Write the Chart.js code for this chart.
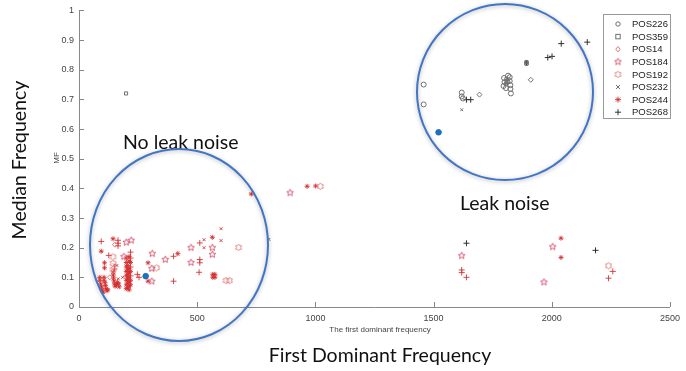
<!DOCTYPE html>
<html><head><meta charset="utf-8">
<script src="https://cdn.jsdelivr.net/npm/chart.js@4"></script>
<style>html,body{margin:0;padding:0;background:#fff;}#wrap{width:686px;height:371px;position:relative;}</style>
</head><body><div id="wrap"><canvas id="c" width="686" height="371"></canvas></div>
<script>
// ---- data ----
const xTicks = [0, 500, 1000, 1500, 2000, 2500];
const yTicks = [0, 0.1, 0.2, 0.3, 0.4, 0.5, 0.6, 0.7, 0.8, 0.9, 1];
const seriesNames = ['POS226','POS359','POS14','POS184','POS192','POS232','POS244','POS268'];

const pos226Dark = [[1458,0.75],[1458,0.683],[1619,0.723],[1619,0.71],[1624,0.703],[1798,0.772],[1800,0.758],[1796,0.745],[1806,0.738],[1812,0.76],[1815,0.78],[1822,0.775],[1822,0.762],[1825,0.748],[1825,0.735],[1827,0.72]];
const pos359Dark = [[199,0.72],[1808,0.768],[1812,0.758],[1806,0.752],[1893,0.826],[1893,0.82]];
const pos14Dark  = [[1694,0.716],[1911,0.766]];
const pos232Dark = [[1619,0.665],[803,0.228]];
const pos244Dark = [[1893,0.823]];
const pos268Dark = [[1639,0.699],[1657,0.699],[1983,0.841],[2001,0.845],[2040,0.888],[2150,0.893],[1639,0.215],[2185,0.191]];

const pos14Red  = [[130,0.1],[152,0.21]];
const pos184Red = [[200,0.218],[221,0.225],[310,0.18],[308,0.13],[308,0.087],[365,0.16],[474,0.2],[474,0.15],[564,0.2],[564,0.177],[893,0.385],[1619,0.173],[2004,0.203],[1967,0.084],[190,0.17]];
const pos192Red = [[144,0.169],[144,0.147],[144,0.127],[328,0.132],[675,0.201],[622,0.089],[636,0.089],[1021,0.407],[2240,0.139]];
const pos232Red = [[166,0.095],[185,0.1],[529,0.227],[529,0.2],[601,0.264],[601,0.224],[150,0.142],[160,0.14]];
const pos244Red = [[94,0.188],[144,0.23],[108,0.149],[108,0.132],[292,0.149],[292,0.087],[418,0.18],[564,0.235],[566,0.11],[575,0.11],[566,0.1],[575,0.1],[729,0.381],[965,0.407],[1001,0.408],[2039,0.232],[2039,0.167],
  [88,0.1],[88,0.09],[92,0.078],[95,0.068],[98,0.058],[102,0.05],[106,0.1],[106,0.09],[110,0.082],[112,0.072],[115,0.062],[118,0.055],[122,0.058],
  [145,0.118],[145,0.108],[146,0.098],[148,0.088],[150,0.078],[153,0.07],[158,0.075],[163,0.083],[168,0.078],[170,0.068],
  [200,0.165],[200,0.15],[200,0.135],[200,0.12],[200,0.105],[200,0.09],[200,0.075],[200,0.062],[206,0.14],[206,0.125],[206,0.11],[206,0.095],[206,0.08],[206,0.065],
  [212,0.17],[212,0.155],[212,0.13],[212,0.115],[212,0.1],[212,0.085],[212,0.07],[212,0.058],[218,0.15],[218,0.12],[218,0.09],[218,0.075]];
const pos268Red = [[94,0.221],[126,0.174],[165,0.225],[165,0.215],[165,0.206],[400,0.171],[400,0.087],[511,0.216],[511,0.16],[511,0.149],[508,0.117],[247,0.11],[254,0.1],[1619,0.125],[1619,0.116],[1639,0.1],[2258,0.12],[2240,0.097],[218,0.185],[218,0.165],[218,0.135],[218,0.105],[150,0.128]];
const blueDots = [[282,0.104],[1521,0.589]];

// ---- marker images ----
function starCanvas(n, color, outer, inner){
  const s = 9, c = document.createElement('canvas'); c.width = s; c.height = s;
  const g = c.getContext('2d'); g.strokeStyle = color; g.lineWidth = 0.9; g.beginPath();
  for (let i = 0; i < 2*n; i++){
    const r = i % 2 ? inner : outer, a = -Math.PI/2 + i*Math.PI/n;
    const px = s/2 + r*Math.cos(a), py = s/2 + r*Math.sin(a);
    i ? g.lineTo(px,py) : g.moveTo(px,py);
  }
  g.closePath(); g.stroke(); return c;
}
const GRAY = '#707070', DARK = '#303030', RED = 'rgba(212,42,42,0.85)', PINK = '#e07a7a', STARRED = '#d4506a';
const pentagram = starCanvas(5, STARRED, 3.6, 1.6);
const hexagram = starCanvas(6, PINK, 3.4, 2.2);

const toXY = a => a.map(p => ({x:p[0], y:p[1]}));
function ds(label, data, style, color, legend, r){
  return {label, data: toXY(data), pointStyle: style, borderColor: color, backgroundColor: 'rgba(0,0,0,0)',
    pointRadius: r || 2.5, pointBorderWidth: 1, showLine: false, inLegend: legend};
}
const datasets = [
  ds(seriesNames[0], pos226Dark, 'circle', GRAY, true),
  ds(seriesNames[1], pos359Dark, 'rect', GRAY, true, 2.2),
  ds(seriesNames[2], pos14Red, 'rectRot', PINK, true),
  ds(seriesNames[3], pos184Red, pentagram, STARRED, true),
  ds(seriesNames[4], pos192Red, hexagram, PINK, true),
  ds(seriesNames[5], pos232Dark, 'crossRot', GRAY, true, 2),
  ds(seriesNames[6], pos244Red, 'star', RED, true, 2.5),
  ds(seriesNames[7], pos268Dark, 'cross', DARK, true, 3),
  ds(seriesNames[2], pos14Dark, 'rectRot', GRAY, false),
  ds(seriesNames[5], pos232Red, 'crossRot', RED, false, 2),
  ds(seriesNames[6], pos244Dark, 'star', DARK, false),
  ds(seriesNames[7], pos268Red, 'cross', RED, false, 3),
  {label:'', data: toXY(blueDots), pointStyle:'circle', backgroundColor:'#1f6fc0', borderColor:'#1f6fc0', pointRadius:2.8, showLine:false, inLegend:false}
];

const FONT = '"Liberation Sans", Arial, sans-serif';
const extras = {
  id: 'extras',
  afterDraw(chart){
    const ctx = chart.ctx, xs = chart.scales.x, ys = chart.scales.y, ca = chart.chartArea;
    ctx.save();
    // inward ticks
    ctx.strokeStyle = '#888'; ctx.lineWidth = 1;
    xTicks.forEach(v => { const px = Math.round(xs.getPixelForValue(v)) + 0.5; ctx.beginPath(); ctx.moveTo(px, ca.bottom); ctx.lineTo(px, ca.bottom - 5); ctx.stroke(); });
    yTicks.forEach(v => { const py = Math.round(ys.getPixelForValue(v)) + 0.5; ctx.beginPath(); ctx.moveTo(ca.left, py); ctx.lineTo(ca.left + 5, py); ctx.stroke(); });
    // axis titles (small)
    ctx.fillStyle = '#444'; ctx.font = '8px ' + FONT; ctx.textAlign = 'center'; ctx.textBaseline = 'middle';
    ctx.fillText('The first dominant frequency', 380, 330);
    ctx.save(); ctx.translate(57, 158); ctx.rotate(-Math.PI/2); ctx.fillText('MF', 0, 0); ctx.restore();
    // outer titles
    ctx.fillStyle = '#111'; ctx.font = '19.5px Lato, "Open Sans", sans-serif';
    ctx.fillText('First Dominant Frequency', 380, 356);
    ctx.save(); ctx.translate(20, 160); ctx.rotate(-Math.PI/2); ctx.fillText('Median Frequency', 0, 0); ctx.restore();
    ctx.textAlign = 'left';
    ctx.fillText('No leak noise', 123, 143);
    ctx.fillText('Leak noise', 460, 204);
    // circles
    ctx.save();
    ctx.shadowColor = 'rgba(0,0,0,0.3)'; ctx.shadowBlur = 4; ctx.shadowOffsetY = 1;
    ctx.strokeStyle = '#4276c4'; ctx.lineWidth = 2;
    ctx.beginPath(); ctx.ellipse(179, 245, 89, 96, 0, 0, Math.PI*2); ctx.stroke();
    ctx.beginPath(); ctx.ellipse(505, 92, 88, 88, 0, 0, Math.PI*2); ctx.stroke();
    ctx.restore();
    // legend
    ctx.fillStyle = '#fff'; ctx.fillRect(603.5, 14.5, 67, 104);
    ctx.strokeStyle = '#999'; ctx.lineWidth = 1; ctx.strokeRect(603.5, 14.5, 67, 104);
    const items = chart.data.datasets.filter(d => d.inLegend);
    ctx.font = '9.5px ' + FONT; ctx.textBaseline = 'middle'; ctx.textAlign = 'left';
    items.forEach((d, i) => {
      const y = 24 + i * 12.6, x = 618;
      ctx.strokeStyle = d.borderColor; ctx.lineWidth = 1;
      const r = 2.2, st = d.pointStyle;
      ctx.beginPath();
      if (st === 'circle') { ctx.arc(x, y, r, 0, Math.PI*2); ctx.stroke(); }
      else if (st === 'rect') { ctx.strokeRect(x - r, y - r, 2*r, 2*r); }
      else if (st === 'rectRot') { ctx.moveTo(x, y-r-0.5); ctx.lineTo(x+r, y); ctx.lineTo(x, y+r+0.5); ctx.lineTo(x-r, y); ctx.closePath(); ctx.stroke(); }
      else if (st === 'crossRot') { ctx.moveTo(x-2,y-2); ctx.lineTo(x+2,y+2); ctx.moveTo(x+2,y-2); ctx.lineTo(x-2,y+2); ctx.stroke(); }
      else if (st === 'cross') { ctx.moveTo(x-3,y); ctx.lineTo(x+3,y); ctx.moveTo(x,y-3); ctx.lineTo(x,y+3); ctx.stroke(); }
      else if (st === 'star') { ctx.moveTo(x-3,y); ctx.lineTo(x+3,y); ctx.moveTo(x,y-3); ctx.lineTo(x,y+3); ctx.moveTo(x-2,y-2); ctx.lineTo(x+2,y+2); ctx.moveTo(x+2,y-2); ctx.lineTo(x-2,y+2); ctx.stroke(); }
      else { ctx.drawImage(st, x - st.width/2, y - st.height/2); }
      ctx.fillStyle = '#222'; ctx.fillText(d.label, 632, y + 0.5);
    });
    ctx.restore();
  }
};

const plainTick = v => String(Math.round(v * 10) / 10);
new Chart(document.getElementById('c'), {
  type: 'scatter',
  data: { datasets },
  options: {
    responsive: false, animation: false, devicePixelRatio: 1,
    layout: { padding: { left: 0, right: 7, top: 10, bottom: 0 } },
    plugins: { legend: { display: false }, tooltip: { enabled: false } },
    scales: {
      x: { type: 'linear', min: 0, max: 2500, afterBuildTicks: s => { s.ticks = xTicks.map(v => ({value: v})); },
        afterFit: s => { s.height = 64; },
        grid: { drawOnChartArea: false, drawTicks: false }, border: { display: true, color: '#888' },
        ticks: { padding: 6, color: '#444', font: { family: FONT, size: 9 }, maxRotation: 0, callback: plainTick } },
      y: { type: 'linear', min: 0, max: 1, afterBuildTicks: s => { s.ticks = yTicks.map(v => ({value: v})); },
        afterFit: s => { s.width = 79; },
        grid: { drawOnChartArea: false, drawTicks: false }, border: { display: true, color: '#888' },
        ticks: { padding: 5, color: '#444', font: { family: FONT, size: 9 }, callback: plainTick } }
    }
  },
  plugins: [extras]
});
</script></body></html>
